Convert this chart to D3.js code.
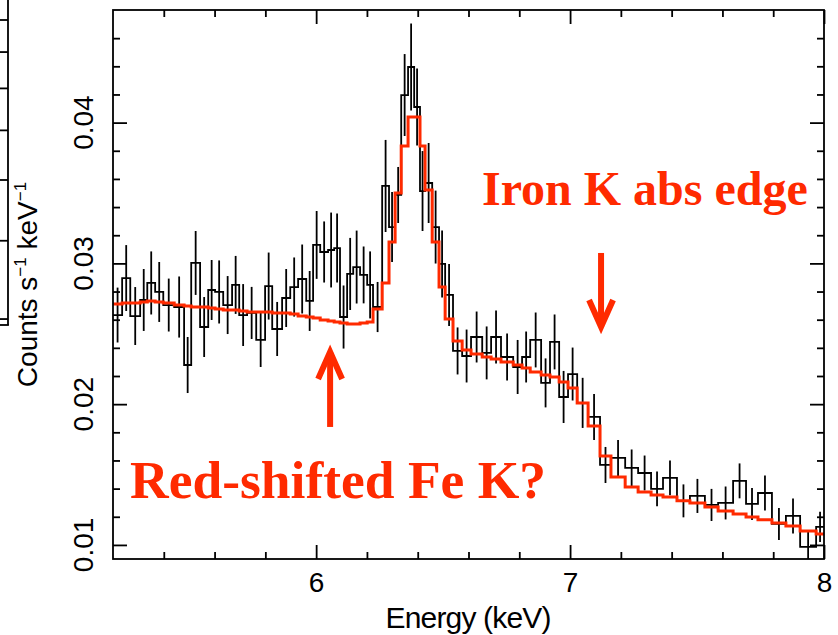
<!DOCTYPE html>
<html><head><meta charset="utf-8">
<script src="https://cdn.jsdelivr.net/npm/d3@7"></script>
<style>body{margin:0;background:#fff}svg{display:block}</style>
</head><body><svg id="c" width="838" height="635"></svg>
<script>
// ---- data (keV bin edges, counts s^-1 keV^-1) ----
const edges = [5.200, 5.236, 5.268, 5.307, 5.335, 5.366, 5.398, 5.441, 5.480, 5.508,
  5.543, 5.575, 5.602, 5.634, 5.669, 5.697, 5.728, 5.764, 5.799, 5.827,
  5.866, 5.898, 5.929, 5.961, 5.988, 6.016, 6.047, 6.071, 6.094, 6.122,
  6.146, 6.173, 6.201, 6.224, 6.260, 6.287, 6.311, 6.335, 6.362, 6.386,
  6.409, 6.429, 6.457, 6.484, 6.508, 6.539, 6.575, 6.610, 6.654, 6.689,
  6.728, 6.776, 6.811, 6.843, 6.886, 6.921, 6.957, 6.992, 7.028, 7.071,
  7.118, 7.161, 7.217, 7.268, 7.319, 7.366, 7.421, 7.472, 7.531, 7.583,
  7.642, 7.693, 7.740, 7.795, 7.850, 7.906, 7.969, 8.000];
const counts = [0.02633, 0.02896, 0.02626, 0.02740, 0.02861, 0.02797, 0.02704, 0.02690, 0.02278, 0.03003,
  0.02548, 0.02811, 0.02797, 0.02704, 0.02847, 0.02633, 0.02648, 0.02456, 0.02839, 0.02534,
  0.02754, 0.02832, 0.02889, 0.02733, 0.03131, 0.03081, 0.03095, 0.03109, 0.02619, 0.02925,
  0.02974, 0.02918, 0.02847, 0.02690, 0.03550, 0.03258, 0.03486, 0.04196, 0.04395, 0.04111,
  0.03514, 0.03571, 0.03258, 0.02996, 0.02776, 0.02378, 0.02342, 0.02477, 0.02364, 0.02477,
  0.02335, 0.02264, 0.02335, 0.02456, 0.02151, 0.02442, 0.02051, 0.02214, 0.02009, 0.01909,
  0.01568, 0.01618, 0.01547, 0.01511, 0.01398, 0.01476, 0.01313, 0.01348, 0.01284, 0.01298,
  0.01455, 0.01291, 0.01369, 0.01149, 0.01206, 0.00986, 0.01128];
const errors = [0.00195, 0.00234, 0.00206, 0.00220, 0.00224, 0.00213, 0.00188, 0.00217, 0.00199, 0.00227,
  0.00213, 0.00213, 0.00224, 0.00206, 0.00206, 0.00220, 0.00185, 0.00192, 0.00238, 0.00192,
  0.00206, 0.00210, 0.00245, 0.00213, 0.00241, 0.00217, 0.00266, 0.00245, 0.00224, 0.00256,
  0.00259, 0.00202, 0.00238, 0.00178, 0.00327, 0.00249, 0.00199, 0.00291, 0.00309, 0.00273,
  0.00284, 0.00284, 0.00259, 0.00238, 0.00220, 0.00167, 0.00188, 0.00181, 0.00188, 0.00188,
  0.00167, 0.00192, 0.00181, 0.00195, 0.00174, 0.00195, 0.00185, 0.00188, 0.00178, 0.00163,
  0.00128, 0.00128, 0.00131, 0.00124, 0.00124, 0.00124, 0.00117, 0.00121, 0.00114, 0.00117,
  0.00124, 0.00114, 0.00124, 0.00114, 0.00124, 0.00107, 0.00107];
const model = [0.02712, 0.02719, 0.02719, 0.02726, 0.02733, 0.02726, 0.02719, 0.02704, 0.02697, 0.02690,
  0.02690, 0.02683, 0.02676, 0.02669, 0.02669, 0.02662, 0.02655, 0.02655, 0.02655, 0.02648,
  0.02648, 0.02641, 0.02626, 0.02619, 0.02612, 0.02598, 0.02591, 0.02584, 0.02577, 0.02570,
  0.02570, 0.02577, 0.02584, 0.02676, 0.02861, 0.03152, 0.03500, 0.03834, 0.04040, 0.04040,
  0.03834, 0.03521, 0.03152, 0.02832, 0.02605, 0.02449, 0.02385, 0.02356, 0.02335, 0.02321,
  0.02300, 0.02278, 0.02257, 0.02229, 0.02207, 0.02193, 0.02158, 0.02115, 0.02009, 0.01845,
  0.01632, 0.01483, 0.01412, 0.01376, 0.01355, 0.01341, 0.01313, 0.01298, 0.01270, 0.01241,
  0.01220, 0.01199, 0.01178, 0.01156, 0.01135, 0.01099, 0.01078];
const xTickValues = [6, 7, 8];
const xTickLabels = ["6", "7", "8"];
const yTickValues = [0.01, 0.02, 0.03, 0.04];
const yTickLabels = ["0.01", "0.02", "0.03", "0.04"];
const xLabel = "Energy (keV)";
const annotations = [
  {text: "Iron K abs edge", e: 6.653, v: 0.03415, size: 48},
  {text: "Red-shifted Fe K?", e: 5.267, v: 0.01334, size: 53.5}
];
const arrows = [
  {e: 6.055, from: 0.01838, to: 0.02392},
  {e: 7.122, from: 0.03074, to: 0.02527}
];
const fragTicks = [9, 8, 7, 6, 5, 4, 3];

// ---- drawing ----
const RED = "#ff2a00";
const svg = d3.select("#c");
const L = 113, R = 824, T = 10, B = 559;
const x = d3.scaleLinear().domain([5.2, 8]).range([L, R]);
const y = d3.scaleLinear().domain([0.009, 0.048]).range([B, T]);

svg.append("defs").append("clipPath").attr("id", "clip")
  .append("rect").attr("x", L).attr("y", T).attr("width", R - L).attr("height", B - T);

// fragment of neighbouring panel at far left
const fy = d3.scaleLog().domain([9, 5]).range([20, 180]);
const frag = svg.append("g").attr("stroke", "#000").attr("stroke-width", 1.8);
frag.append("line").attr("x1", 8).attr("x2", 8).attr("y1", 0).attr("y2", 325);
frag.append("line").attr("x1", 0).attr("x2", 8.9).attr("y1", 325).attr("y2", 325);
frag.selectAll("line.ft").data(fragTicks).join("line").attr("class", "ft")
  .attr("x1", 0).attr("x2", 8).attr("y1", d => fy(d)).attr("y2", d => fy(d));

// axes
const minorX = d3.range(5.4, 7.9, 0.2).filter(v => !xTickValues.some(t => Math.abs(t - v) < 1e-6));
const minorY = d3.range(0.010, 0.0475, 0.002).filter(v => !yTickValues.some(t => Math.abs(t - v) < 1e-9));
const axG = svg.append("g");
function styleAxis(g) {
  g.select(".domain").remove();
  g.selectAll(".tick line").attr("stroke", "#000").attr("stroke-width", 1.8);
}
axG.append("g").attr("transform", `translate(0,${B})`)
  .call(d3.axisBottom(x).tickValues(xTickValues).tickSize(-14).tickPadding(13)
    .tickFormat((d, i) => xTickLabels[i]))
  .call(styleAxis)
  .call(g => g.selectAll("text").attr("font-family", "Liberation Sans, Arial, sans-serif")
    .attr("font-size", 28).attr("fill", "#000"));
axG.append("g").attr("transform", `translate(0,${B})`)
  .call(d3.axisBottom(x).tickValues(minorX).tickSize(-7).tickFormat("")).call(styleAxis);
axG.append("g").attr("transform", `translate(0,${T})`)
  .call(d3.axisTop(x).tickValues(xTickValues).tickSize(-14).tickFormat("")).call(styleAxis);
axG.append("g").attr("transform", `translate(0,${T})`)
  .call(d3.axisTop(x).tickValues(minorX).tickSize(-7).tickFormat("")).call(styleAxis);
axG.append("g").attr("transform", `translate(${L},0)`)
  .call(d3.axisLeft(y).tickValues(yTickValues).tickSize(-14).tickFormat("")).call(styleAxis);
axG.append("g").attr("transform", `translate(${L},0)`)
  .call(d3.axisLeft(y).tickValues(minorY).tickSize(-7).tickFormat("")).call(styleAxis);
axG.append("g").attr("transform", `translate(${R},0)`)
  .call(d3.axisRight(y).tickValues(yTickValues).tickSize(-14).tickFormat("")).call(styleAxis);
axG.append("g").attr("transform", `translate(${R},0)`)
  .call(d3.axisRight(y).tickValues(minorY).tickSize(-7).tickFormat("")).call(styleAxis);

// rotated y tick labels
svg.append("g").selectAll("text").data(yTickValues).join("text")
  .attr("transform", d => `translate(93,${y(d)}) rotate(-90)`)
  .attr("text-anchor", "middle")
  .attr("font-family", "Liberation Sans, Arial, sans-serif").attr("font-size", 28)
  .text((d, i) => yTickLabels[i]);

// axis titles
svg.append("text").attr("x", (L + R) / 2).attr("y", 628).attr("text-anchor", "middle")
  .attr("font-family", "Liberation Sans, Arial, sans-serif").attr("font-size", 30)
  .attr("textLength", 166).attr("lengthAdjust", "spacing")
  .text(xLabel);
const yl = svg.append("text").attr("transform", `translate(37,${(T + B) / 2}) rotate(-90)`)
  .attr("text-anchor", "middle")
  .attr("font-family", "Liberation Sans, Arial, sans-serif").attr("font-size", 28);
yl.append("tspan").text("Counts s");
yl.append("tspan").attr("font-size", 17).attr("dy", -11).text("\u22121");
yl.append("tspan").attr("dy", 11).text(" keV");
yl.append("tspan").attr("font-size", 17).attr("dy", -11).text("\u22121");

// data
const plot = svg.append("g").attr("clip-path", "url(#clip)");
const line = d3.line().x(d => x(d[0])).y(d => y(d[1]));
const histPts = counts.flatMap((v, i) => [[edges[i], v], [edges[i + 1], v]]);
const modelPts = model.flatMap((v, i) => [[edges[i], v], [edges[i + 1], v]]);
plot.append("path").attr("d", line(histPts)).attr("fill", "none")
  .attr("stroke", "#000").attr("stroke-width", 1.8);
plot.append("g").selectAll("line").data(counts).join("line")
  .attr("x1", (d, i) => x((edges[i] + edges[i + 1]) / 2))
  .attr("x2", (d, i) => x((edges[i] + edges[i + 1]) / 2))
  .attr("y1", (d, i) => y(d - errors[i])).attr("y2", (d, i) => y(d + errors[i]))
  .attr("stroke", "#000").attr("stroke-width", 1.8);
plot.append("path").attr("d", line(modelPts)).attr("fill", "none")
  .attr("stroke", RED).attr("stroke-width", 3);

// frame
svg.append("rect").attr("x", L).attr("y", T).attr("width", R - L).attr("height", B - T)
  .attr("fill", "none").attr("stroke", "#000").attr("stroke-width", 1.8);

// annotations
svg.append("g").selectAll("text").data(annotations).join("text")
  .attr("x", d => x(d.e)).attr("y", d => y(d.v))
  .attr("font-family", "Liberation Serif, Times New Roman, serif").attr("font-weight", "bold")
  .attr("font-size", d => d.size).attr("fill", RED).text(d => d.text);

const ag = svg.append("g").attr("stroke", RED).attr("fill", "none")
  .attr("stroke-width", 6).attr("stroke-linejoin", "miter");
arrows.forEach(a => {
  const ax = x(a.e), y0 = y(a.from), y1 = y(a.to);
  const dir = y1 < y0 ? 1 : -1; // 1: pointing up
  const tip = y1 + dir * 3;
  ag.append("line").attr("x1", ax).attr("x2", ax).attr("y1", y0).attr("y2", tip);
  ag.append("path").attr("d", `M${ax - 12},${tip + dir * 27} L${ax},${tip} L${ax + 12},${tip + dir * 27}`);
});
</script></body></html>
